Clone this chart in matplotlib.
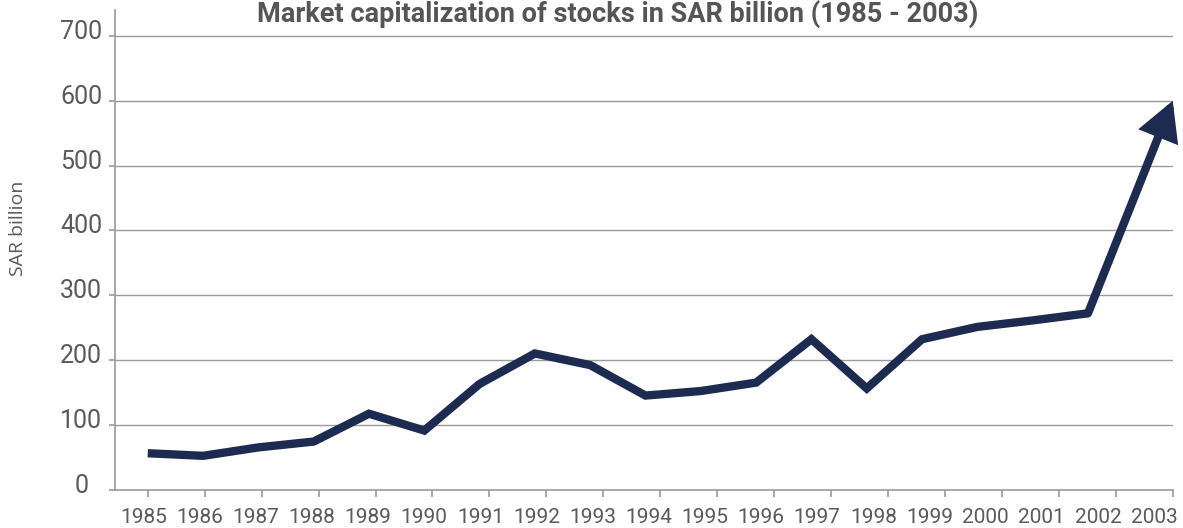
import matplotlib
matplotlib.use("Agg")
import matplotlib.pyplot as plt
from matplotlib.transforms import ScaledTranslation

# Market capitalization of the Saudi stock market, SAR billion
years = list(range(1985, 2003))
cap_values = [56, 52, 65, 74, 117, 91, 163, 210, 192, 145, 152, 165, 232, 156, 232, 251, 261, 272]
end_year = 2003
end_value = 600

tick_years = list(range(1985, 2004))
y_ticks = [0, 100, 200, 300, 400, 500, 600, 700]

NAVY = "#1d2b51"
GRID = "#9a9a9a"
TEXT = "#5a5a5a"

plt.rcParams["font.family"] = ["Roboto", "DejaVu Sans"]

fig = plt.figure(figsize=(11.83, 5.28), dpi=100)
ax = fig.add_axes([0.0975, 0.0729, 0.8938, 0.908])

ax.set_xlim(1984.431, 2003)
ax.set_ylim(0, 740)

for s in ("top", "right"):
    ax.spines[s].set_visible(False)
for s in ("left", "bottom"):
    ax.spines[s].set_color(GRID)
    ax.spines[s].set_linewidth(1.2)

ax.set_yticks(y_ticks)
ax.set_yticklabels([str(v) for v in y_ticks])
ax.set_xticks(tick_years)
ax.set_xticklabels([])
ax.tick_params(axis="y", length=4.5, width=1.2, color=GRID, labelsize=18,
               labelcolor=TEXT, pad=20)
ax.tick_params(axis="x", length=5, width=1.2, color=GRID)
# value labels sit just on top of their grid line
nudge = ScaledTranslation(0, -0.03, fig.dpi_scale_trans)
for t in ax.get_yticklabels():
    t.set_ha("center")
    t.set_va("baseline")
    t.set_transform(t.get_transform() + nudge)

for v in y_ticks[1:]:
    ax.axhline(v, color=GRID, lw=1.0, zorder=1)

ax.set_ylabel("SAR billion", fontsize=14, color=TEXT,
              family=["Open Sans", "DejaVu Sans"])
ax.yaxis.set_label_coords(-0.0835, 0.545)

# year labels run on a slightly tighter spacing than the tick marks
lab = ax.twiny()
lab.set_xlim(1984.498, 2003.333)
for s in lab.spines.values():
    s.set_visible(False)
lab.xaxis.set_ticks_position("bottom")
lab.set_xticks(tick_years)
lab.set_xticklabels([str(y) for y in tick_years])
lab.tick_params(axis="x", length=0, labelsize=15, labelcolor=TEXT, pad=13)

# the line sits on its own x scale as well
lx = ax.twiny()
lx.set_xlim(1984.414, 2003.532)
lx.axis("off")
lx.plot(years, cap_values, color=NAVY, lw=6, solid_joinstyle="miter",
        solid_capstyle="butt", zorder=3)

# final jump drawn as an arrow up to the 2003 level
ax.annotate("", xy=(end_year, end_value), xycoords=ax.transData,
            xytext=(years[-1], cap_values[-1]), textcoords=lx.transData,
            arrowprops=dict(arrowstyle="-|>,head_length=0.95,head_width=0.52",
                            mutation_scale=20, color=NAVY, lw=6,
                            shrinkA=0, shrinkB=0, joinstyle="miter"),
            annotation_clip=False, zorder=4)

fig.text(0.522, 0.959, "Market capitalization of stocks in SAR billion (1985 - 2003)",
         ha="center", va="baseline", fontsize=19.5, fontweight="bold", color="#555555",
         family=["Liberation Sans Narrow", "Roboto", "DejaVu Sans"])

fig.savefig("out.png", dpi=100)
